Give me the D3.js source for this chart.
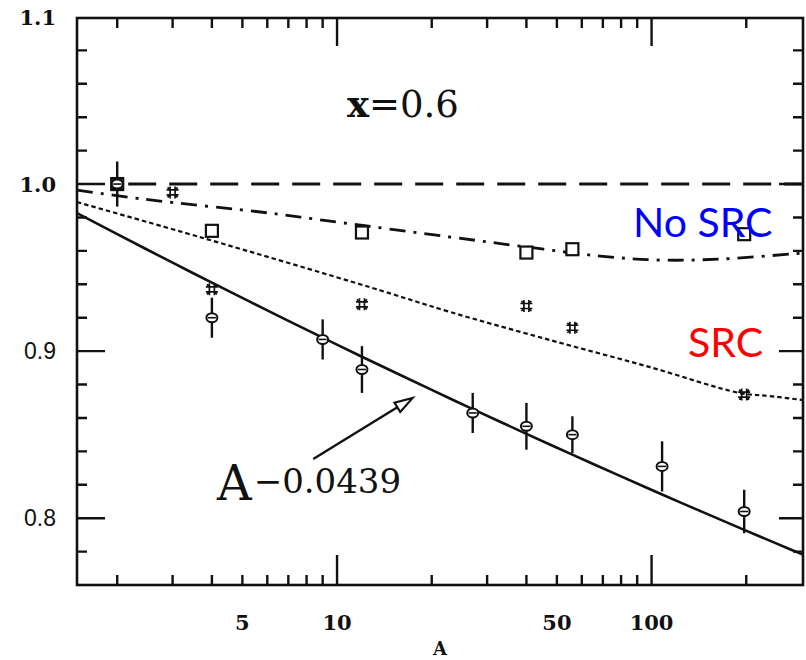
<!DOCTYPE html>
<html>
<head>
<meta charset="utf-8">
<script src="https://cdn.jsdelivr.net/npm/d3@7"></script>
<style>
  html, body { margin: 0; padding: 0; background: #fff; }
  svg { display: block; }
</style>
</head>
<body>
<svg id="chart" width="806" height="660"></svg>
<script>
// EMC ratio at x = 0.6 as a function of the mass number A

// measured ratios with statistical errors
const measuredA   = [2, 4, 9, 12, 27, 40, 56, 108, 197];
const measuredR   = [1.000, 0.920, 0.907, 0.889, 0.863, 0.855, 0.850, 0.831, 0.804];
const measuredErr = [0.0135, 0.012, 0.012, 0.014, 0.012, 0.014, 0.011, 0.015, 0.013];

// model points with short-range correlations
const srcPointA = [2, 3, 4, 12, 40, 56, 197];
const srcPointR = [1.000, 0.995, 0.937, 0.928, 0.927, 0.914, 0.874];

// model points without short-range correlations
const noSrcPointA = [2, 4, 12, 40, 56, 197];
const noSrcPointR = [1.000, 0.972, 0.971, 0.959, 0.961, 0.970];

// model curves
const noSrcCurveA = [1.49, 2.42, 6.12, 9.5, 22.9, 40.2, 68.6, 106, 165, 303];
const noSrcCurveR = [0.9964, 0.9910, 0.9826, 0.9778, 0.9683, 0.9623, 0.9569, 0.9545, 0.9551, 0.9587];

const srcCurveA = [1.49, 3.75, 12.7, 22.9, 47.6, 98.9, 191, 238, 303];
const srcCurveR = [0.9892, 0.9677, 0.9383, 0.9234, 0.9066, 0.8904, 0.8749, 0.8731, 0.8707];

// power-law fit R = A^fitExponent
const fitExponent = -0.0439;
const fitSampleA = [1.49, 2, 3, 4, 6, 9, 12, 20, 27, 40, 56, 80, 108, 150, 197, 250, 303];

// axes
const xDomain = [1.49, 303];
const yDomain = [0.76, 1.1];
const xLabelTicks = [5, 10, 50, 100];
const xMajorTicks = [10, 100];
const xMinorTicks = [2, 3, 4, 5, 6, 7, 8, 9, 20, 30, 40, 50, 60, 70, 80, 90, 200];
const yLabelTicks = [0.8, 0.9, 1.0, 1.1];
const yLabelText  = ["0.8", "0.9", "1.0", "1.1"];
const yMajorTicks = [0.8, 0.9, 1.0];
const yMinorTicks = [0.78, 0.82, 0.84, 0.86, 0.88, 0.92, 0.94, 0.96, 0.98, 1.02, 1.04, 1.06, 1.08];

// annotation arrow (data coordinates)
const arrowFrom = [8.4, 0.8354];
const arrowTo   = [17.4, 0.8720];

const plotLeft = 77, plotRight = 803, plotTop = 17, plotBottom = 585;
const ink = "#111";

const svg = d3.select("#chart");
const x = d3.scaleLog().domain(xDomain).range([plotLeft, plotRight]);
const y = d3.scaleLinear().domain(yDomain).range([plotBottom, plotTop]);

const serif = "'DejaVu Serif', 'Liberation Serif', serif";
const sans = "'Liberation Sans', Arial, sans-serif";

// ---- frame ----
svg.append("rect")
  .attr("x", plotLeft).attr("y", plotTop + 1)
  .attr("width", plotRight - plotLeft).attr("height", plotBottom - plotTop - 1)
  .attr("fill", "none").attr("stroke", ink).attr("stroke-width", 2.6);

// ---- ticks on all four sides, pointing inward ----
function tickPath(values, scale, len, edge, dir, vertical) {
  return values.map(v => {
    const p = scale(v);
    return vertical
      ? `M${p},${edge}V${edge + dir * len}`
      : `M${edge},${p}H${edge + dir * len}`;
  }).join("");
}
const tickSpecs = [
  tickPath(yMinorTicks, y, 10, plotLeft, 1, false),
  tickPath(yMajorTicks, y, 28, plotLeft, 1, false),
  tickPath(yMinorTicks, y, 10, plotRight, -1, false),
  tickPath(yMajorTicks, y, 24, plotRight, -1, false),
  tickPath(xMinorTicks, x, 10, plotBottom, -1, true),
  tickPath(xMajorTicks, x, 30, plotBottom, -1, true),
  tickPath(xMinorTicks, x, 10, plotTop + 1, 1, true),
  tickPath(xMajorTicks, x, 28, plotTop + 1, 1, true)
];
svg.append("g").selectAll("path")
  .data(tickSpecs)
  .join("path")
  .attr("d", d => d)
  .attr("fill", "none")
  .attr("stroke", ink)
  .attr("stroke-width", 2.4);

// ---- tick labels ----
svg.append("g").selectAll("text")
  .data(yLabelTicks)
  .join("text")
  .attr("x", 56)
  .attr("y", d => y(d) + 8)
  .attr("text-anchor", "end")
  .attr("font-family", d => d >= 1.0 ? serif : sans)
  .attr("font-weight", d => d >= 1.0 ? "bold" : "normal")
  .attr("font-size", d => d >= 1.0 ? 21 : 23)
  .attr("fill", ink)
  .text((d, i) => yLabelText[i]);

svg.append("g").selectAll("text")
  .data(xLabelTicks)
  .join("text")
  .attr("x", d => x(d))
  .attr("y", 630)
  .attr("text-anchor", "middle")
  .attr("font-family", serif)
  .attr("font-weight", "bold")
  .attr("font-size", 21)
  .attr("fill", ink)
  .text(d => d);

svg.append("text")
  .attr("x", (plotLeft + plotRight) / 2).attr("y", 655)
  .attr("text-anchor", "middle")
  .attr("font-family", serif).attr("font-weight", "bold")
  .attr("font-size", 18).attr("fill", ink)
  .text("A");

// ---- reference line at R = 1 ----
svg.append("line")
  .attr("x1", x(2) + 11).attr("x2", plotRight)
  .attr("y1", y(1)).attr("y2", y(1))
  .attr("stroke", ink).attr("stroke-width", 3)
  .attr("stroke-dasharray", "28,13");

// ---- curves ----
const line = d3.line().x(d => x(d[0])).y(d => y(d[1])).curve(d3.curveCatmullRom);
svg.append("clipPath").attr("id", "plot")
  .append("rect").attr("x", plotLeft).attr("y", plotTop)
  .attr("width", plotRight - plotLeft).attr("height", plotBottom - plotTop);

const curves = svg.append("g").attr("clip-path", "url(#plot)");

curves.append("path")
  .datum(noSrcCurveA.map((a, i) => [a, noSrcCurveR[i]]))
  .attr("d", line)
  .attr("fill", "none").attr("stroke", ink).attr("stroke-width", 2.8)
  .attr("stroke-dasharray", "16,8,3,8");

curves.append("path")
  .datum(srcCurveA.map((a, i) => [a, srcCurveR[i]]))
  .attr("d", line)
  .attr("fill", "none").attr("stroke", ink).attr("stroke-width", 2.2)
  .attr("stroke-dasharray", "4.5,3");

curves.append("path")
  .datum(fitSampleA.map(a => [a, Math.pow(a, fitExponent)]))
  .attr("d", line)
  .attr("fill", "none").attr("stroke", ink).attr("stroke-width", 2.6);

// ---- markers ----
// no-SRC model: open squares
svg.append("g").selectAll("rect")
  .data(noSrcPointA.map((a, i) => [a, noSrcPointR[i]]))
  .join("rect")
  .attr("x", d => x(d[0]) - 6).attr("y", d => y(d[1]) - 6)
  .attr("width", 12).attr("height", 12)
  .attr("fill", "#fff").attr("stroke", ink).attr("stroke-width", 2.2);

// SRC model: small hatched crosses
const hatch = "M-6,-2.5H6M-6,2.5H6M-2.5,-6V6M2.5,-6V6M-5,-5L-2.5,-2.5M5,-5L2.5,-2.5M-5,5L-2.5,2.5M5,5L2.5,2.5";
svg.append("g").selectAll("path")
  .data(srcPointA.map((a, i) => [a, srcPointR[i]]))
  .join("path")
  .attr("transform", d => `translate(${x(d[0])},${y(d[1])})`)
  .attr("d", hatch)
  .attr("fill", "none").attr("stroke", ink).attr("stroke-width", 1.7);

// measurements: error bars and open ovals
const meas = svg.append("g");
const measData = measuredA.map((a, i) => ({ a, r: measuredR[i], e: measuredErr[i] }));
meas.selectAll("line.err")
  .data(measData)
  .join("line")
  .attr("class", "err")
  .attr("x1", d => x(d.a)).attr("x2", d => x(d.a))
  .attr("y1", d => y(d.r + d.e)).attr("y2", d => y(d.r - d.e))
  .attr("stroke", ink).attr("stroke-width", 2.4);
meas.selectAll("ellipse")
  .data(measData)
  .join("ellipse")
  .attr("cx", d => x(d.a)).attr("cy", d => y(d.r))
  .attr("rx", 5.5).attr("ry", 4.5)
  .attr("fill", "#fff").attr("stroke", ink).attr("stroke-width", 2);
meas.selectAll("line.mid")
  .data(measData)
  .join("line")
  .attr("class", "mid")
  .attr("x1", d => x(d.a) - 4).attr("x2", d => x(d.a) + 4)
  .attr("y1", d => y(d.r)).attr("y2", d => y(d.r))
  .attr("stroke", ink).attr("stroke-width", 1.6);

// ---- annotation arrow to the power-law fit ----
{
  const x1 = x(arrowFrom[0]), y1 = y(arrowFrom[1]);
  const x2 = x(arrowTo[0]), y2 = y(arrowTo[1]);
  const ang = Math.atan2(y2 - y1, x2 - x1);
  const headLen = 18, headHalf = 5.5;
  const bx = x2 - headLen * Math.cos(ang), by = y2 - headLen * Math.sin(ang);
  const nx = -Math.sin(ang), ny = Math.cos(ang);
  svg.append("line")
    .attr("x1", x1).attr("y1", y1).attr("x2", bx).attr("y2", by)
    .attr("stroke", ink).attr("stroke-width", 2.4);
  svg.append("path")
    .attr("d", `M${x2},${y2}L${bx + nx * headHalf},${by + ny * headHalf}L${bx - nx * headHalf},${by - ny * headHalf}Z`)
    .attr("fill", "#fff").attr("stroke", ink).attr("stroke-width", 2.2)
    .attr("stroke-linejoin", "miter");
}

// ---- text annotations ----
const title = svg.append("text")
  .attr("x", 347).attr("y", 117)
  .attr("font-family", serif).attr("font-size", 37).attr("fill", ink);
title.append("tspan").attr("font-weight", "bold").text("x");
title.append("tspan").text("=0.6");

const fitLabel = svg.append("text")
  .attr("x", 217).attr("y", 500)
  .attr("font-family", serif).attr("fill", ink);
fitLabel.append("tspan").attr("font-size", 48).text("A");
fitLabel.append("tspan").attr("font-size", 34).attr("dx", 2).attr("dy", -7).text("\u22120.0439");

svg.append("text")
  .attr("x", 633).attr("y", 237)
  .attr("font-family", "Lato, 'Open Sans', sans-serif").attr("font-size", 41)
  .attr("fill", "#0000ff")
  .text("No SRC");

svg.append("text")
  .attr("x", 688).attr("y", 357)
  .attr("font-family", "Lato, 'Open Sans', sans-serif").attr("font-size", 41)
  .attr("fill", "#ff0000")
  .text("SRC");
</script>
</body>
</html>
